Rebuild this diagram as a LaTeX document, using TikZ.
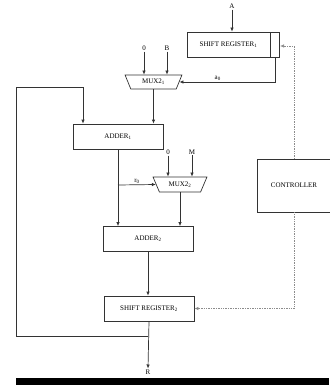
\documentclass[tikz,border=0pt]{standalone}
\usepackage{fontspec}
\setmainfont{Liberation Serif}
\usetikzlibrary{shapes.geometric,arrows.meta,positioning}

\begin{document}
\begin{tikzpicture}[x=1pt,y=-1pt,
  blk/.style={draw=black!80,line width=0.7pt,fill=white,align=center,
              font=\fontsize{7}{8}\selectfont,inner sep=1pt,
              minimum height=25pt},
  mux/.style={draw=black!80,line width=0.7pt,trapezium,shape border rotate=180,
              trapezium stretches=true,font=\fontsize{7}{8}\selectfont,
              inner sep=0pt},
  lbl/.style={font=\fontsize{7}{8}\selectfont,inner sep=1pt},
  arr/.style={draw=black!80,line width=0.7pt,-{Latex[length=4pt,width=3.5pt]}},
  ln/.style={draw=black!80,line width=0.7pt},
  ctl/.style={draw=black!45,line width=0.7pt,densely dotted,
              -{Latex[length=4pt,width=3.5pt]}}]
  \useasboundingbox (0,0) rectangle (329,385);
  % blocks
  \node[blk,minimum width=83pt] (sr1) at (228.5,44.5) {SHIFT REGISTER\textsubscript{1}};
  \node[blk,minimum width=9pt,anchor=west] (sr1b) at (sr1.east) {};
  \node[mux,minimum width=57pt,minimum height=14pt,trapezium angle=63] (mux1) at (153.5,82) {MUX2\textsubscript{1}};
  \node[blk,minimum width=90pt] (add1) at (118,136.5) {ADDER\textsubscript{1}};
  \node[mux,minimum width=54pt,minimum height=15pt,trapezium angle=58] (mux2) at (180,184.5) {MUX2\textsubscript{2}};
  \node[blk,minimum width=90pt] (add2) at (148,239) {ADDER\textsubscript{2}};
  \node[blk,minimum width=90pt] (sr2) at (149,308.5) {SHIFT REGISTER\textsubscript{2}};
  \node[blk,minimum width=74pt,minimum height=53pt] (ctrl) at (294,185.5) {CONTROLLER};
  % inputs and outputs
  \node[lbl] (inA) at (232,6) {A};
  \node[lbl] (inZ1) at (144,48) {0};
  \node[lbl] (inB) at (167,48) {B};
  \node[lbl] (inZ2) at (168,152) {0};
  \node[lbl] (inM) at (192,152) {M};
  \node[lbl] (outR) at (148,372) {R};
  \coordinate (br) at (118,185);
  \coordinate (fb) at (148,336);
  % connectors
  \draw[arr] (inA) -- (inA |- sr1.north);
  \draw[arr] (inZ1) -- (inZ1 |- mux1.north);
  \draw[arr] (inB) -- (inB |- mux1.north);
  \draw[arr] (sr1b.south) |- node[lbl,above,pos=0.8] {a\textsubscript{0}} (mux1.east);
  \draw[arr] (mux1.south) -- (mux1.south |- add1.north);
  \draw[ln] (add1.south) -- (br);
  \draw[arr] (br) -- (br |- add2.north);
  \draw[arr] (br) -- node[lbl,above,pos=0.5] {r\textsubscript{0}} (mux2.west);
  \draw[arr] (inZ2) -- (inZ2 |- mux2.north);
  \draw[arr] (inM) -- (inM |- mux2.north);
  \draw[arr] (mux2.south) -- (mux2.south |- add2.north);
  \draw[arr] (add2.south) -- (add2.south |- sr2.north);
  \draw[arr] (sr2.south) -- (outR.north);
  \draw[arr] (fb) -| (16,87) -| ([xshift=-35pt]add1.north);
  % control lines
  \draw[ctl] (ctrl.north) |- ([yshift=-1.5pt]sr1b.east);
  \draw[ctl] (ctrl.south) |- (sr2.east);
  % bottom bar
  \fill (16,378) rectangle (329,385);
\end{tikzpicture}
\end{document}
